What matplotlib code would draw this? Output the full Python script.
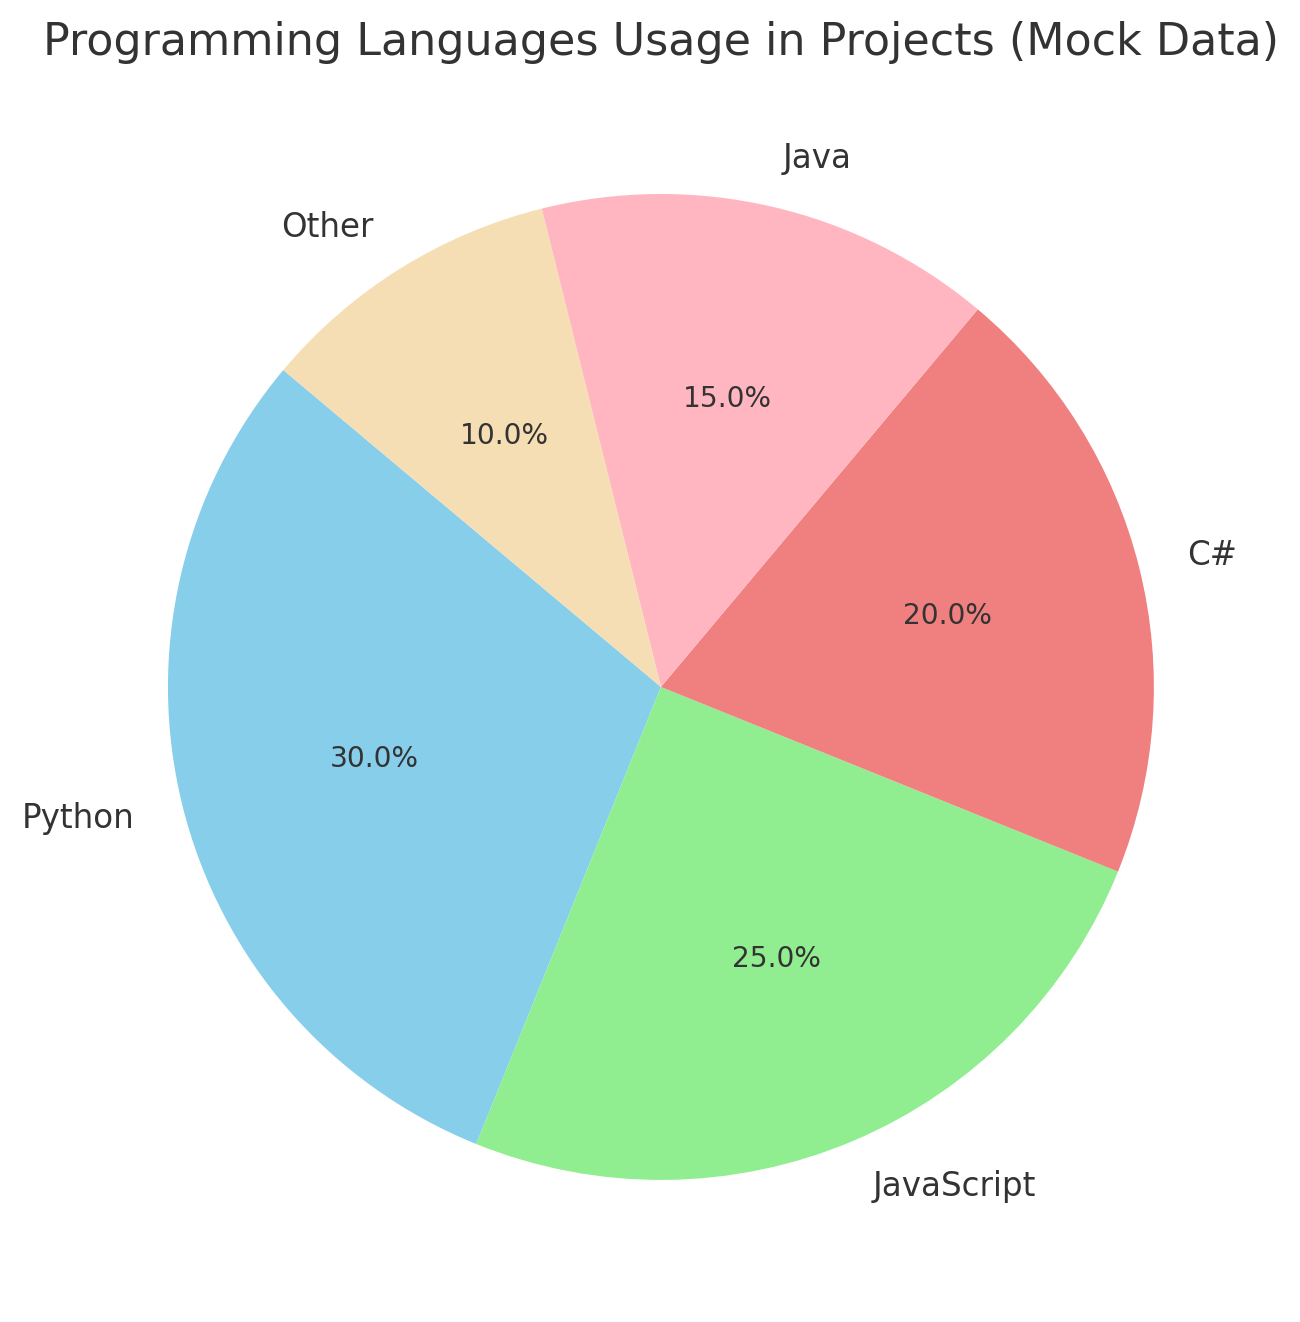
import matplotlib
matplotlib.use('Agg')
import matplotlib.pyplot as plt

# 数据
languages = ['Python', 'JavaScript', 'C#', 'Java', 'Other']
usage = [30, 25, 20, 15, 10]
colors = ['skyblue', 'lightgreen', 'lightcoral', 'lightpink', 'wheat']

plt.rcParams['font.family'] = ['DejaVu Sans']
plt.rcParams['text.color'] = '#333333'

fig = plt.figure(figsize=(10, 10.17), dpi=130)
# 饼图默认范围 ±1.25，轴区域按此放大
ax = fig.add_axes([0.0344, 0.01418, 0.948, 0.9323])

ax.pie(usage,
       labels=languages,
       colors=colors,
       autopct='%1.1f%%',
       startangle=140,
       textprops={'fontsize': 18, 'color': '#333333'})
for t in ax.texts:
    if t.get_text().endswith('%'):
        t.set_fontsize(15.5)
ax.set_aspect('equal')

fig.text(0.5085, 1 - 42 / 1322, 'Programming Languages Usage in Projects (Mock Data)',
         fontsize=24.6, ha='center', va='center', color='#333333')

fig.savefig('out.png', dpi=130)
